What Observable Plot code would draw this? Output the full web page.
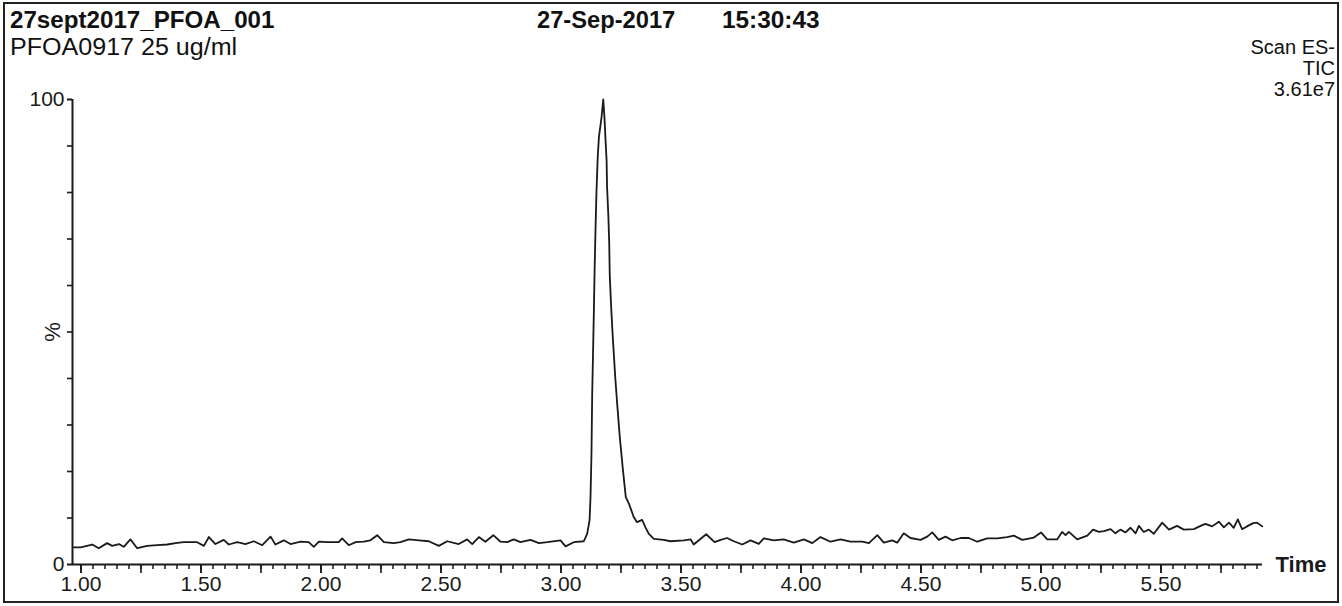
<!DOCTYPE html>
<html>
<head>
<meta charset="utf-8">
<script src="https://cdn.jsdelivr.net/npm/d3@7"></script>
<script src="https://cdn.jsdelivr.net/npm/@observablehq/plot@0.6"></script>
<style>
  html, body { margin: 0; padding: 0; background: #fff; }
  #wrap { position: relative; width: 1342px; height: 606px; overflow: hidden;
          font-family: "Liberation Sans", Arial, sans-serif; color: #111; }
  .t { position: absolute; white-space: nowrap; line-height: 1; transform-origin: left center; }
  .b { font-weight: bold; font-size: 23px; }
  .r { font-size: 20px; right: 7px; text-align: right; }
  #chart { position: absolute; left: 0; top: 80px; }
  #frame { position: absolute; left: 3px; top: 2px; width: 1336px; height: 601px;
           box-sizing: border-box; border: 2px solid #222; pointer-events: none; z-index: 5; }
</style>
</head>
<body>
<div id="wrap">
  <div class="t b" style="left:10px; top:9px; transform:scaleX(1.05);">27sept2017_PFOA_001</div>
  <div class="t b" style="left:537px; top:9px; transform:scaleX(1.03);">27-Sep-2017</div>
  <div class="t b" style="left:722px; top:9px; transform:scaleX(1.06);">15:30:43</div>
  <div class="t" style="left:10px; top:36px; font-size:23px; transform:scaleX(1.09);">PFOA0917 25 ug/ml</div>
  <div class="t r" style="top:37px;">Scan ES-</div>
  <div class="t r" style="top:58px;">TIC</div>
  <div class="t r" style="top:79px;">3.61e7</div>
  <div id="chart"></div>
  <div id="frame"></div>
</div>
<script>
// Retention time (min) and relative intensity (%)
const timeMin = [
  0.970, 0.998, 1.047, 1.074, 1.109, 1.130, 1.158, 1.178, 1.206, 1.234,
  1.276, 1.318, 1.359, 1.394, 1.428, 1.484, 1.512, 1.533, 1.560, 1.595,
  1.616, 1.651, 1.685, 1.720, 1.755, 1.790, 1.810, 1.845, 1.873, 1.915,
  1.949, 1.970, 1.991, 2.026, 2.074, 2.088, 2.116, 2.144, 2.178, 2.206,
  2.234, 2.262, 2.303, 2.331, 2.366, 2.408, 2.449, 2.491, 2.526, 2.574,
  2.609, 2.630, 2.658, 2.685, 2.718, 2.748, 2.776, 2.803, 2.831, 2.873,
  2.908, 2.943, 2.998, 3.019, 3.053, 3.095, 3.109, 3.119, 3.123, 3.127,
  3.130, 3.134, 3.137, 3.140, 3.144, 3.148, 3.153, 3.158, 3.169, 3.176,
  3.181, 3.185, 3.190, 3.192, 3.197, 3.201, 3.203, 3.209, 3.215, 3.220,
  3.226, 3.234, 3.245, 3.257, 3.270, 3.283, 3.303, 3.317, 3.338, 3.352,
  3.366, 3.387, 3.428, 3.456, 3.512, 3.540, 3.553, 3.605, 3.640, 3.665,
  3.692, 3.720, 3.755, 3.790, 3.824, 3.845, 3.887, 3.928, 3.970, 4.012,
  4.047, 4.081, 4.123, 4.165, 4.206, 4.255, 4.283, 4.318, 4.345, 4.380,
  4.401, 4.428, 4.456, 4.498, 4.526, 4.547, 4.574, 4.602, 4.630, 4.665,
  4.699, 4.734, 4.776, 4.818, 4.859, 4.887, 4.922, 4.970, 5.000, 5.026,
  5.067, 5.088, 5.102, 5.116, 5.151, 5.193, 5.217, 5.241, 5.262, 5.290,
  5.310, 5.331, 5.352, 5.373, 5.394, 5.408, 5.428, 5.449, 5.470, 5.505,
  5.533, 5.567, 5.595, 5.637, 5.665, 5.685, 5.713, 5.741, 5.762, 5.783,
  5.803, 5.820, 5.838, 5.862, 5.884, 5.900, 5.922
];
const intensityPct = [
  3.7, 3.7, 4.3, 3.5, 4.6, 4.0, 4.4, 3.8, 5.4, 3.5,
  4.0, 4.15, 4.3, 4.6, 4.8, 4.8, 4.0, 5.9, 4.4, 5.3,
  4.3, 4.8, 4.4, 5.0, 4.15, 6.0, 4.3, 5.2, 4.4, 4.9,
  4.8, 3.8, 4.9, 4.8, 4.8, 5.6, 4.15, 4.8, 4.9, 5.2,
  6.3, 4.8, 4.6, 4.8, 5.4, 5.2, 5.0, 4.0, 5.0, 4.4,
  5.4, 4.4, 5.9, 4.9, 6.3, 4.9, 4.8, 5.4, 4.8, 5.3,
  4.6, 4.8, 5.2, 3.9, 4.8, 5.0, 6.6, 9.5, 14.5, 23.8,
  36.7, 46.7, 54.6, 63.2, 72.5, 80.4, 87.6, 91.9, 96.2, 100,
  96.2, 91.9, 86.9, 81.1, 75.4, 69.0, 62.5, 55.3, 49.6, 45.3,
  40.3, 34.6, 27.4, 20.9, 14.5, 13.1, 10.2, 9.1, 9.6, 8.0,
  6.6, 5.5, 5.3, 5.0, 5.2, 5.4, 4.3, 6.5, 4.8, 5.3,
  5.7, 5.0, 4.3, 5.2, 4.45, 5.6, 5.2, 5.4, 4.7, 5.4,
  4.6, 5.9, 4.9, 5.4, 4.9, 4.9, 4.6, 6.3, 4.7, 5.2,
  4.7, 6.7, 5.7, 5.3, 6.0, 6.9, 5.3, 6.0, 5.2, 5.7,
  5.7, 4.9, 5.6, 5.6, 5.9, 6.2, 5.3, 5.8, 6.9, 5.4,
  5.4, 7.0, 6.3, 7.0, 5.4, 6.2, 7.5, 7.0, 7.2, 7.6,
  6.7, 7.5, 6.9, 7.9, 6.7, 8.3, 7.0, 7.5, 6.6, 9.0,
  7.5, 8.3, 7.5, 7.6, 8.3, 8.75, 8.2, 9.2, 8.0, 9.0,
  7.9, 9.7, 7.6, 8.3, 8.9, 9.0, 8.2
];

// Axis definitions
const xDomain = [0.9646, 5.9229];
const yDomain = [0, 100];
const xLabelTicks = [1.00, 1.50, 2.00, 2.50, 3.00, 3.50, 4.00, 4.50, 5.00, 5.50];
const xMajorTicks = [1.00, 1.25, 1.50, 1.75, 2.00, 2.25, 2.50, 2.75, 3.00, 3.25, 3.50,
                     3.75, 4.00, 4.25, 4.50, 4.75, 5.00, 5.25, 5.50, 5.75];
const xMinorTicks = d3.range(0, 99).map(i => +(1 + i * 0.05).toFixed(2));
const yTicks = [0, 10, 20, 30, 40, 50, 60, 70, 80, 90, 100];
const yLabelTicks = [0, 100];
const yAxisTitle = ["%"];
const xAxisTitle = ["Time"];

const data = timeMin.map((t, i) => ({t, v: intensityPct[i]}));
const ink = "#1a1a1a";

const chart = Plot.plot({
  width: 1342,
  height: 526,
  marginLeft: 72,
  marginRight: 80,
  marginTop: 19,
  marginBottom: 42,
  x: {domain: xDomain},
  y: {domain: yDomain},
  style: {
    fontFamily: '"Liberation Sans", Arial, sans-serif',
    fontSize: "21px",
    color: ink,
    background: "transparent",
    overflow: "visible"
  },
  marks: [
    Plot.axisY({ticks: yTicks, tickSize: 5, fill: "none", strokeWidth: 1.6, stroke: ink}),
    Plot.axisY({ticks: yLabelTicks, tickSize: 5, tickPadding: 3, strokeWidth: 1.6, stroke: ink,
                tickFormat: d => String(d), label: null}),
    Plot.axisX({ticks: xMinorTicks, tickSize: 5, fill: "none", strokeWidth: 1.5, stroke: ink}),
    Plot.axisX({ticks: xMajorTicks, tickSize: 9, fill: "none", strokeWidth: 1.6, stroke: ink}),
    Plot.axisX({ticks: xLabelTicks, tickSize: 9, tickPadding: 3, strokeWidth: 1.6, stroke: ink,
                tickFormat: d => d.toFixed(2), label: null}),
    Plot.ruleY([0], {stroke: ink, strokeWidth: 2}),
    Plot.ruleX([xDomain[0]], {y1: 0, y2: 100, stroke: ink, strokeWidth: 2}),
    Plot.line(data, {x: "t", y: "v", stroke: ink, strokeWidth: 1.8, curve: "linear"}),
    Plot.text(yAxisTitle, {x: xDomain[0], y: 50, text: d => d, rotate: -90, dx: -20,
                           fontSize: 22, fill: ink}),
    Plot.text(xAxisTitle, {x: xDomain[1], y: 0, text: d => d, dx: 13, textAnchor: "start",
                           fontSize: 22, fontWeight: "bold", fill: ink})
  ]
});
document.getElementById("chart").appendChild(chart);
</script>
</body>
</html>
